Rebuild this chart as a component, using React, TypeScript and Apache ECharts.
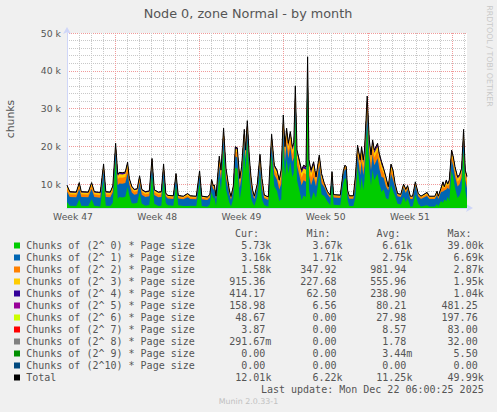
import React, { useEffect, useRef } from "react";
import * as echarts from "echarts";

const hours = [
  0, 5.6, 18.6, 24.5, 28.5, 42.5, 49.1, 54.5, 66.4, 73.0,
  77.4, 86.4, 91.4, 97.0, 101.3, 104.3, 110.3, 116.3, 120.9, 124.3,
  129.3, 134.3, 140.2, 144.8, 149.2, 156.2, 164.2, 169.6, 174.2, 182.1,
  188.1, 192.7, 197.1, 201.1, 212.1, 217.5, 222.0, 232.0, 240.6, 246.0,
  258.0, 264.5, 268.9, 279.9, 284.9, 288.5, 291.9, 293.9, 297.3, 303.8,
  307.2, 312.4, 317.2, 323.8, 327.2, 331.8, 335.8, 339.7, 344.7, 348.3,
  353.7, 356.3, 359.7, 363.7, 367.1, 370.3, 373.7, 379.6, 385.0, 389.0,
  393.6, 401.6, 408.2, 413.6, 419.0, 423.5, 427.5, 431.5, 434.9, 438.1,
  441.5, 445.5, 449.5, 452.5, 455.5, 458.9, 463.4, 468.0, 472.0, 476.8,
  480.0, 482.8, 486.8, 492.0, 496.8, 503.3, 507.9, 513.3, 519.9, 525.3,
  528.7, 531.9, 545.2, 551.2, 554.6, 557.2, 559.8, 563.2, 571.2, 575.2,
  579.7, 585.1, 587.7, 591.1, 593.5, 598.9, 603.1, 606.5, 609.7, 613.1,
  619.6, 623.0, 627.6, 631.6, 636.4, 641.0, 646.4, 650.4, 654.4, 659.5,
  665.9, 671.5, 675.9, 679.5, 684.9, 689.5, 694.9, 700.8, 706.2, 718.2,
  722.8, 733.8, 738.2, 740.7, 746.1, 750.1, 752.7, 756.7, 759.3, 762.7,
  767.3, 770.7, 774.1, 779.2, 783.2, 787.2, 791.2, 794.6, 798.0,
];

const chunks0 = [
  5.26, 4.29, 4.19, 5.96, 4.29, 4.19, 5.96, 4.29, 4.09, 10.86,
  4.29, 4.19, 5.06, 16.36, 6.06, 6.56, 6.46, 6.66, 9.26, 7.06,
  4.96, 4.89, 5.09, 7.76, 4.89, 4.29, 4.49, 12.36, 4.79, 4.19,
  4.29, 10.86, 4.98, 4.38, 4.28, 9.5, 4.38, 4.18, 4.2, 4.28,
  4.18, 10.2, 4.18, 3.98, 4.58, 7.9, 6.2, 6.5, 4.18, 11.85,
  8.15, 19.25, 8.65, 5.1, 4.08, 6.2, 14.35, 14.05, 5.95, 9.05,
  18.95, 13.45, 21.25, 11.65, 6.35, 5.1, 4.18, 6.7, 12.35, 5.95,
  4.48, 3.98, 17.65, 9.45, 8.15, 5.55, 6.01, 20.31, 11.91, 16.81,
  12.81, 15.91, 11.91, 13.01, 28.01, 11.01, 8.41, 5.71, 7.01, 6.61,
  35.71, 8.41, 5.71, 7.91, 6.35, 12.15, 7.25, 6.83, 5.3, 4.4,
  9.93, 4.5, 4.4, 10.13, 11.63, 11.23, 5.7, 4.2, 4.2, 6.35,
  14.75, 8.41, 11.91, 8.41, 11.01, 25.31, 13.71, 9.71, 13.71, 11.01,
  12.81, 10.11, 7.91, 8.65, 6.35, 5.93, 9.75, 8.15, 6.83, 4.8,
  4.6, 6.63, 5.23, 6.23, 4.1, 4.1, 7.23, 4.8, 4.1, 4.43,
  4.1, 4.1, 4.73, 4.1, 5.53, 5.05, 5.93, 5.55, 6.63, 5.55,
  13.45, 11.65, 9.05, 6.35, 6.95, 8.65, 18.95, 8.15, 5.73,
];
const chunks1 = [
  2.8, 2.3, 2.3, 2.8, 2.3, 2.3, 2.8, 2.3, 2.3, 2.8,
  2.3, 2.3, 2.8, 2.8, 3.6, 3.6, 3.6, 3.6, 3.6, 2.8,
  2.8, 2.3, 2.3, 2.8, 2.3, 2.3, 2.3, 2.8, 2.3, 2.3,
  2.3, 2.8, 1.8, 1.8, 1.8, 2.3, 1.8, 1.8, 2.3, 1.8,
  1.8, 2.3, 1.8, 1.8, 1.8, 2.3, 2.3, 2.3, 1.8, 3.0,
  3.0, 3.0, 3.0, 2.3, 1.8, 2.3, 3.0, 3.0, 3.0, 3.0,
  3.0, 3.0, 3.0, 3.0, 3.0, 2.3, 1.8, 2.3, 3.0, 3.0,
  1.8, 1.8, 3.0, 3.0, 3.0, 3.0, 4.0, 4.0, 4.0, 4.0,
  4.0, 4.0, 4.0, 4.0, 4.0, 4.0, 4.0, 4.0, 4.0, 4.0,
  4.0, 4.0, 4.0, 4.0, 3.0, 3.0, 3.0, 2.4, 1.95, 1.95,
  2.4, 1.95, 1.95, 2.4, 2.4, 2.4, 1.95, 1.95, 1.95, 3.0,
  3.0, 4.0, 4.0, 4.0, 4.0, 4.0, 4.0, 4.0, 4.0, 4.0,
  4.0, 4.0, 4.0, 3.0, 3.0, 2.4, 3.0, 3.0, 2.4, 1.95,
  1.95, 2.4, 2.4, 2.4, 1.95, 1.95, 2.4, 1.95, 1.95, 2.4,
  1.95, 1.95, 2.4, 1.95, 2.4, 3.0, 2.4, 3.0, 2.4, 3.0,
  3.0, 3.0, 3.0, 3.0, 3.0, 3.0, 3.0, 3.0, 3.16,
];
const chunks2 = [
  0.9, 0.75, 0.75, 0.9, 0.75, 0.75, 0.9, 0.75, 0.75, 0.9,
  0.75, 0.75, 0.9, 0.9, 1.6, 1.6, 1.6, 1.6, 1.6, 0.9,
  0.9, 0.75, 0.75, 0.9, 0.75, 0.75, 0.75, 0.9, 0.75, 0.75,
  0.75, 0.9, 0.4, 0.4, 0.4, 0.5, 0.4, 0.4, 0.5, 0.4,
  0.4, 0.5, 0.4, 0.4, 0.4, 0.5, 0.5, 0.5, 0.4, 1.3,
  1.3, 1.3, 1.3, 0.5, 0.4, 0.5, 1.3, 1.3, 1.3, 1.3,
  1.3, 1.3, 1.3, 1.3, 1.3, 0.5, 0.4, 0.5, 1.3, 1.3,
  0.4, 0.4, 1.3, 1.3, 1.3, 1.3, 2.0, 2.0, 2.0, 2.0,
  2.0, 2.0, 2.0, 2.0, 2.0, 2.0, 2.0, 2.0, 2.0, 2.0,
  2.0, 2.0, 2.0, 2.0, 1.3, 1.3, 1.3, 0.5, 0.38, 0.38,
  0.5, 0.38, 0.38, 0.5, 0.5, 0.5, 0.38, 0.38, 0.38, 1.3,
  1.3, 2.0, 2.0, 2.0, 2.0, 2.0, 2.0, 2.0, 2.0, 2.0,
  2.0, 2.0, 2.0, 1.3, 1.3, 0.5, 1.3, 1.3, 0.5, 0.38,
  0.38, 0.5, 0.5, 0.5, 0.38, 0.38, 0.5, 0.38, 0.38, 0.5,
  0.38, 0.38, 0.5, 0.38, 0.5, 1.3, 0.5, 1.3, 0.5, 1.3,
  1.3, 1.3, 1.3, 1.3, 1.3, 1.3, 1.3, 1.3, 1.58,
];
const chunks3 = [
  0.5, 0.45, 0.45, 0.5, 0.45, 0.45, 0.5, 0.45, 0.45, 0.5,
  0.45, 0.45, 0.5, 0.5, 0.9, 0.9, 0.9, 0.9, 0.9, 0.5,
  0.5, 0.45, 0.45, 0.5, 0.45, 0.45, 0.45, 0.5, 0.45, 0.45,
  0.45, 0.5, 0.3, 0.3, 0.3, 0.35, 0.3, 0.3, 0.35, 0.3,
  0.3, 0.35, 0.3, 0.3, 0.3, 0.35, 0.35, 0.35, 0.3, 0.8,
  0.8, 0.8, 0.8, 0.35, 0.3, 0.35, 0.8, 0.8, 0.8, 0.8,
  0.8, 0.8, 0.8, 0.8, 0.8, 0.35, 0.3, 0.35, 0.8, 0.8,
  0.3, 0.3, 0.8, 0.8, 0.8, 0.8, 1.2, 1.2, 1.2, 1.2,
  1.2, 1.2, 1.2, 1.2, 1.2, 1.2, 1.2, 1.2, 1.2, 1.2,
  1.2, 1.2, 1.2, 1.2, 0.8, 0.8, 0.8, 0.33, 0.26, 0.26,
  0.33, 0.26, 0.26, 0.33, 0.33, 0.33, 0.26, 0.26, 0.26, 0.8,
  0.8, 1.2, 1.2, 1.2, 1.2, 1.2, 1.2, 1.2, 1.2, 1.2,
  1.2, 1.2, 1.2, 0.8, 0.8, 0.33, 0.8, 0.8, 0.33, 0.26,
  0.26, 0.33, 0.33, 0.33, 0.26, 0.26, 0.33, 0.26, 0.26, 0.33,
  0.26, 0.26, 0.33, 0.26, 0.33, 0.8, 0.33, 0.8, 0.33, 0.8,
  0.8, 0.8, 0.8, 0.8, 0.8, 0.8, 0.8, 0.8, 0.915,
];
const chunks4 = [
  0.17, 0.15, 0.15, 0.17, 0.15, 0.15, 0.17, 0.15, 0.15, 0.17,
  0.15, 0.15, 0.17, 0.17, 0.3, 0.3, 0.3, 0.3, 0.3, 0.17,
  0.17, 0.15, 0.15, 0.17, 0.15, 0.15, 0.15, 0.17, 0.15, 0.15,
  0.15, 0.17, 0.09, 0.09, 0.09, 0.11, 0.09, 0.09, 0.11, 0.09,
  0.09, 0.11, 0.09, 0.09, 0.09, 0.11, 0.11, 0.11, 0.09, 0.3,
  0.3, 0.3, 0.3, 0.11, 0.09, 0.11, 0.3, 0.3, 0.3, 0.3,
  0.3, 0.3, 0.3, 0.3, 0.3, 0.11, 0.09, 0.11, 0.3, 0.3,
  0.09, 0.09, 0.3, 0.3, 0.3, 0.3, 0.5, 0.5, 0.5, 0.5,
  0.5, 0.5, 0.5, 0.5, 0.5, 0.5, 0.5, 0.5, 0.5, 0.5,
  0.5, 0.5, 0.5, 0.5, 0.3, 0.3, 0.3, 0.1, 0.08, 0.08,
  0.1, 0.08, 0.08, 0.1, 0.1, 0.1, 0.08, 0.08, 0.08, 0.3,
  0.3, 0.5, 0.5, 0.5, 0.5, 0.5, 0.5, 0.5, 0.5, 0.5,
  0.5, 0.5, 0.5, 0.3, 0.3, 0.1, 0.3, 0.3, 0.1, 0.08,
  0.08, 0.1, 0.1, 0.1, 0.08, 0.08, 0.1, 0.08, 0.08, 0.1,
  0.08, 0.08, 0.1, 0.08, 0.1, 0.3, 0.1, 0.3, 0.1, 0.3,
  0.3, 0.3, 0.3, 0.3, 0.3, 0.3, 0.3, 0.3, 0.414,
];
const chunks5 = [
  0.05, 0.04, 0.04, 0.05, 0.04, 0.04, 0.05, 0.04, 0.04, 0.05,
  0.04, 0.04, 0.05, 0.05, 0.1, 0.1, 0.1, 0.1, 0.1, 0.05,
  0.05, 0.04, 0.04, 0.05, 0.04, 0.04, 0.04, 0.05, 0.04, 0.04,
  0.04, 0.05, 0.025, 0.025, 0.025, 0.03, 0.025, 0.025, 0.03, 0.025,
  0.025, 0.03, 0.025, 0.025, 0.025, 0.03, 0.03, 0.03, 0.025, 0.1,
  0.1, 0.1, 0.1, 0.03, 0.025, 0.03, 0.1, 0.1, 0.1, 0.1,
  0.1, 0.1, 0.1, 0.1, 0.1, 0.03, 0.025, 0.03, 0.1, 0.1,
  0.025, 0.025, 0.1, 0.1, 0.1, 0.1, 0.2, 0.2, 0.2, 0.2,
  0.2, 0.2, 0.2, 0.2, 0.2, 0.2, 0.2, 0.2, 0.2, 0.2,
  0.2, 0.2, 0.2, 0.2, 0.1, 0.1, 0.1, 0.03, 0.02, 0.02,
  0.03, 0.02, 0.02, 0.03, 0.03, 0.03, 0.02, 0.02, 0.02, 0.1,
  0.1, 0.2, 0.2, 0.2, 0.2, 0.2, 0.2, 0.2, 0.2, 0.2,
  0.2, 0.2, 0.2, 0.1, 0.1, 0.03, 0.1, 0.1, 0.03, 0.02,
  0.02, 0.03, 0.03, 0.03, 0.02, 0.02, 0.03, 0.02, 0.02, 0.03,
  0.02, 0.02, 0.03, 0.02, 0.03, 0.1, 0.03, 0.1, 0.03, 0.1,
  0.1, 0.1, 0.1, 0.1, 0.1, 0.1, 0.1, 0.1, 0.159,
];
const chunks6 = [
  0.015, 0.012, 0.012, 0.015, 0.012, 0.012, 0.015, 0.012, 0.012, 0.015,
  0.012, 0.012, 0.015, 0.015, 0.03, 0.03, 0.03, 0.03, 0.03, 0.015,
  0.015, 0.012, 0.012, 0.015, 0.012, 0.012, 0.012, 0.015, 0.012, 0.012,
  0.012, 0.015, 0.008, 0.008, 0.008, 0.01, 0.008, 0.008, 0.01, 0.008,
  0.008, 0.01, 0.008, 0.008, 0.008, 0.01, 0.01, 0.01, 0.008, 0.035,
  0.035, 0.035, 0.035, 0.01, 0.008, 0.01, 0.035, 0.035, 0.035, 0.035,
  0.035, 0.035, 0.035, 0.035, 0.035, 0.01, 0.008, 0.01, 0.035, 0.035,
  0.008, 0.008, 0.035, 0.035, 0.035, 0.035, 0.07, 0.07, 0.07, 0.07,
  0.07, 0.07, 0.07, 0.07, 0.07, 0.07, 0.07, 0.07, 0.07, 0.07,
  0.07, 0.07, 0.07, 0.07, 0.035, 0.035, 0.035, 0.008, 0.006, 0.006,
  0.008, 0.006, 0.006, 0.008, 0.008, 0.008, 0.006, 0.006, 0.006, 0.035,
  0.035, 0.07, 0.07, 0.07, 0.07, 0.07, 0.07, 0.07, 0.07, 0.07,
  0.07, 0.07, 0.07, 0.035, 0.035, 0.008, 0.035, 0.035, 0.008, 0.006,
  0.006, 0.008, 0.008, 0.008, 0.006, 0.006, 0.008, 0.006, 0.006, 0.008,
  0.006, 0.006, 0.008, 0.006, 0.008, 0.035, 0.008, 0.035, 0.008, 0.035,
  0.035, 0.035, 0.035, 0.035, 0.035, 0.035, 0.035, 0.035, 0.049,
];
const chunks7 = [
  0.005, 0.004, 0.004, 0.005, 0.004, 0.004, 0.005, 0.004, 0.004, 0.005,
  0.004, 0.004, 0.005, 0.005, 0.01, 0.01, 0.01, 0.01, 0.01, 0.005,
  0.005, 0.004, 0.004, 0.005, 0.004, 0.004, 0.004, 0.005, 0.004, 0.004,
  0.004, 0.005, 0.002, 0.002, 0.002, 0.003, 0.002, 0.002, 0.003, 0.002,
  0.002, 0.003, 0.002, 0.002, 0.002, 0.003, 0.003, 0.003, 0.002, 0.01,
  0.01, 0.01, 0.01, 0.003, 0.002, 0.003, 0.01, 0.01, 0.01, 0.01,
  0.01, 0.01, 0.01, 0.01, 0.01, 0.003, 0.002, 0.003, 0.01, 0.01,
  0.002, 0.002, 0.01, 0.01, 0.01, 0.01, 0.02, 0.02, 0.02, 0.02,
  0.02, 0.02, 0.02, 0.02, 0.02, 0.02, 0.02, 0.02, 0.02, 0.02,
  0.02, 0.02, 0.02, 0.02, 0.01, 0.01, 0.01, 0.003, 0.002, 0.002,
  0.003, 0.002, 0.002, 0.003, 0.003, 0.003, 0.002, 0.002, 0.002, 0.01,
  0.01, 0.02, 0.02, 0.02, 0.02, 0.02, 0.02, 0.02, 0.02, 0.02,
  0.02, 0.02, 0.02, 0.01, 0.01, 0.003, 0.01, 0.01, 0.003, 0.002,
  0.002, 0.003, 0.003, 0.003, 0.002, 0.002, 0.003, 0.002, 0.002, 0.003,
  0.002, 0.002, 0.003, 0.002, 0.003, 0.01, 0.003, 0.01, 0.003, 0.01,
  0.01, 0.01, 0.01, 0.01, 0.01, 0.01, 0.01, 0.01, 0.004,
];
const chunks8 = [
  0.001, 0.001, 0.001, 0.001, 0.001, 0.001, 0.001, 0.001, 0.001, 0.001,
  0.001, 0.001, 0.001, 0.001, 0.002, 0.002, 0.002, 0.002, 0.002, 0.001,
  0.001, 0.001, 0.001, 0.001, 0.001, 0.001, 0.001, 0.001, 0.001, 0.001,
  0.001, 0.001, 0, 0, 0, 0, 0, 0, 0, 0,
  0, 0, 0, 0, 0, 0, 0, 0, 0, 0.002,
  0.002, 0.002, 0.002, 0, 0, 0, 0.002, 0.002, 0.002, 0.002,
  0.002, 0.002, 0.002, 0.002, 0.002, 0, 0, 0, 0.002, 0.002,
  0, 0, 0.002, 0.002, 0.002, 0.002, 0.003, 0.003, 0.003, 0.003,
  0.003, 0.003, 0.003, 0.003, 0.003, 0.003, 0.003, 0.003, 0.003, 0.003,
  0.003, 0.003, 0.003, 0.003, 0.002, 0.002, 0.002, 0, 0, 0,
  0, 0, 0, 0, 0, 0, 0, 0, 0, 0.002,
  0.002, 0.003, 0.003, 0.003, 0.003, 0.003, 0.003, 0.003, 0.003, 0.003,
  0.003, 0.003, 0.003, 0.002, 0.002, 0, 0.002, 0.002, 0, 0,
  0, 0, 0, 0, 0, 0, 0, 0, 0, 0,
  0, 0, 0, 0, 0, 0.002, 0, 0.002, 0, 0.002,
  0.002, 0.002, 0.002, 0.002, 0.002, 0.002, 0.002, 0.002, 0.0003,
];
const chunks9 = [
  0, 0, 0, 0, 0, 0, 0, 0, 0, 0,
  0, 0, 0, 0, 0, 0, 0, 0, 0, 0,
  0, 0, 0, 0, 0, 0, 0, 0, 0, 0,
  0, 0, 0, 0, 0, 0, 0, 0, 0, 0,
  0, 0, 0, 0, 0, 0, 0, 0, 0, 0,
  0, 0, 0, 0, 0, 0, 0, 0, 0, 0,
  0, 0, 0, 0, 0, 0, 0, 0, 0, 0,
  0, 0, 0, 0, 0, 0, 0, 0, 0, 0,
  0, 0, 0, 0, 0, 0, 0, 0, 0, 0,
  0.0055, 0, 0, 0, 0, 0, 0, 0, 0, 0,
  0, 0, 0, 0, 0, 0, 0, 0, 0, 0,
  0, 0, 0, 0, 0, 0, 0, 0, 0, 0,
  0, 0, 0, 0, 0, 0, 0, 0, 0, 0,
  0, 0, 0, 0, 0, 0, 0, 0, 0, 0,
  0, 0, 0, 0, 0, 0, 0, 0, 0, 0,
  0, 0, 0, 0, 0, 0, 0, 0, 0,
];
const chunks10 = [
  0, 0, 0, 0, 0, 0, 0, 0, 0, 0,
  0, 0, 0, 0, 0, 0, 0, 0, 0, 0,
  0, 0, 0, 0, 0, 0, 0, 0, 0, 0,
  0, 0, 0, 0, 0, 0, 0, 0, 0, 0,
  0, 0, 0, 0, 0, 0, 0, 0, 0, 0,
  0, 0, 0, 0, 0, 0, 0, 0, 0, 0,
  0, 0, 0, 0, 0, 0, 0, 0, 0, 0,
  0, 0, 0, 0, 0, 0, 0, 0, 0, 0,
  0, 0, 0, 0, 0, 0, 0, 0, 0, 0,
  0, 0, 0, 0, 0, 0, 0, 0, 0, 0,
  0, 0, 0, 0, 0, 0, 0, 0, 0, 0,
  0, 0, 0, 0, 0, 0, 0, 0, 0, 0,
  0, 0, 0, 0, 0, 0, 0, 0, 0, 0,
  0, 0, 0, 0, 0, 0, 0, 0, 0, 0,
  0, 0, 0, 0, 0, 0, 0, 0, 0, 0,
  0, 0, 0, 0, 0, 0, 0, 0, 0,
];

const seriesNames = [
  "Chunks of (2^ 0) * Page size",
  "Chunks of (2^ 1) * Page size",
  "Chunks of (2^ 2) * Page size",
  "Chunks of (2^ 3) * Page size",
  "Chunks of (2^ 4) * Page size",
  "Chunks of (2^ 5) * Page size",
  "Chunks of (2^ 6) * Page size",
  "Chunks of (2^ 7) * Page size",
  "Chunks of (2^ 8) * Page size",
  "Chunks of (2^ 9) * Page size",
  "Chunks of (2^10) * Page size",
  "Total",
];
const seriesColors = [
  "#00CC00", "#0066B3", "#FF8000", "#FFCC00", "#330099", "#990099",
  "#CCFF00", "#FF0000", "#808080", "#008F00", "#00487D", "#000000",
];
const curVals = ["5.73k", "3.16k", "1.58k", "915.36", "414.17", "158.98", "48.67", "3.87", "291.67m", "0.00", "0.00", "12.01k"];
const minVals = ["3.67k", "1.71k", "347.92", "227.68", "62.50", "6.56", "0.00", "0.00", "0.00", "0.00", "0.00", "6.22k"];
const avgVals = ["6.61k", "2.75k", "981.94", "555.96", "238.90", "80.21", "27.98", "8.57", "1.78", "3.44m", "0.00", "11.25k"];
const maxVals = ["39.00k", "6.69k", "2.87k", "1.95k", "1.04k", "481.25", "197.76", "83.00", "32.00", "5.50", "0.00", "49.99k"];
const colHeaders = ["Cur:", "Min:", "Avg:", "Max:"];

const weekLabels = ["Week 47", "Week 48", "Week 49", "Week 50", "Week 51"];
const weekLabelHours = [12, 180, 348, 516, 684];
const weekStartHours = [96, 264, 432, 600, 768];
const yLabelValues = [10, 20, 30, 40, 50];

const titleText = "Node 0, zone Normal - by month";
const yName = "chunks";
const lastUpdate = "Last update: Mon Dec 22 06:00:25 2025";
const muninVersion = "Munin 2.0.33-1";
const watermark = "RRDTOOL / TOBI OETIKER";

export default function App() {
  const ref = useRef<HTMLDivElement>(null);
  useEffect(() => {
    if (!ref.current) return;
    const chart = echarts.init(ref.current, null, { renderer: "svg" });
    const layers = [chunks0, chunks1, chunks2, chunks3, chunks4, chunks5, chunks6, chunks7, chunks8, chunks9, chunks10];
    // running sums: the top edge of each stacked band (rrdtool STACK)
    const tops: number[][] = [];
    layers.forEach((arr, k) => {
      tops.push(arr.map((v, i) => v + (k > 0 ? tops[k - 1][i] : 0)));
    });
    const total = tops[tops.length - 1];

    const dayTicks: number[] = [];
    for (let h = 24; h < 798; h += 24) if (weekStartHours.indexOf(h) < 0) dayTicks.push(h);
    const minorY: number[] = [];
    for (let v = 4; v < 50; v += 2) if (v % 10 !== 0) minorY.push(v);

    const axisColor = "#cfd6f8";
    const txt = "#555555";
    const mono = "DejaVu Sans Mono";
    const sans = "DejaVu Sans";

    const series: any[] = [];
    // draw from the highest band down, so each lower band paints over the one above
    for (let k = layers.length - 1; k >= 0; k--) {
      series.push({
        name: seriesNames[k],
        type: "line",
        symbol: "none",
        showSymbol: false,
        silent: true,
        xAxisIndex: 0,
        yAxisIndex: 0,
        color: seriesColors[k],
        lineStyle: { width: 0, opacity: 0 },
        areaStyle: { color: seriesColors[k], opacity: 1, origin: "start" },
        data: hours.map((h, i) => [h, tops[k][i]]),
        z: 2,
        zlevel: 0,
      });
    }
    series.push({
      name: "Total",
      type: "line",
      symbol: "none",
      showSymbol: false,
      silent: true,
      xAxisIndex: 0,
      yAxisIndex: 0,
      lineStyle: { color: "#000000", width: 1 },
      data: hours.map((h, i) => [h, total[i]]),
      z: 3,
    });

    const graphic: any[] = [];
    graphic.push({
      type: "text", x: 248, y: 13.5,
      style: { text: titleText, fill: txt, fontFamily: sans, fontSize: 12.8, textAlign: "center", textVerticalAlign: "middle" },
    });
    graphic.push({
      type: "text", x: 10.5, y: 119, rotation: Math.PI / 2,
      style: { text: yName, fill: txt, fontFamily: sans, fontSize: 10.8, textAlign: "center", textVerticalAlign: "middle" },
    });
    graphic.push({
      type: "text", x: 489.5, y: 56, rotation: -Math.PI / 2,
      style: { text: watermark, fill: "#c8c8c8", fontFamily: sans, fontSize: 7.9, textAlign: "center", textVerticalAlign: "middle" },
    });
    const headerX = [235, 306.4, 376.4, 447.4];
    colHeaders.forEach((h, k) => {
      graphic.push({
        type: "text", x: headerX[k], y: 233.5,
        style: { text: h, fill: txt, fontFamily: mono, fontSize: 10, textAlign: "left", textVerticalAlign: "middle" },
      });
    });
    const colRight = [271.4, 342.5, 412.4, 483.7];
    const pad = (s: string) => (/[km]$/.test(s) ? s : s + "\u00a0");
    seriesNames.forEach((name, i) => {
      const cy = 245.7 + 12 * i;
      graphic.push({ type: "rect", shape: { x: 14, y: cy - 3.2, width: 6, height: 6 }, style: { fill: seriesColors[i] } });
      graphic.push({
        type: "text", x: 26.2, y: cy,
        style: { text: name, fill: txt, fontFamily: mono, fontSize: 10, textAlign: "left", textVerticalAlign: "middle" },
      });
      [curVals, minVals, avgVals, maxVals].forEach((col, k) => {
        graphic.push({
          type: "text", x: colRight[k], y: cy,
          style: { text: pad(col[i]), fill: txt, fontFamily: mono, fontSize: 10, textAlign: "right", textVerticalAlign: "middle" },
        });
      });
    });
    graphic.push({
      type: "text", x: 483.7, y: 389.5,
      style: { text: lastUpdate, fill: txt, fontFamily: mono, fontSize: 10, textAlign: "right", textVerticalAlign: "middle" },
    });
    graphic.push({
      type: "text", x: 248.5, y: 401.5,
      style: { text: muninVersion, fill: "#c0c0c0", fontFamily: sans, fontSize: 7.9, textAlign: "center", textVerticalAlign: "middle" },
    });

    const option: any = {
      animation: false,
      backgroundColor: "#f0f0f0",
      grid: {
        left: 67, right: 30, top: 33, bottom: 204,
        show: true, backgroundColor: "#ffffff", borderWidth: 0,
        containLabel: false, outerBoundsMode: "none",
      },
      xAxis: [
        {
          type: "value", min: 0, max: 798, position: "bottom",
          axisLine: { show: true, onZero: false, lineStyle: { color: axisColor, width: 1 }, symbol: ["none", "arrow"], symbolSize: [6, 7], symbolOffset: [0, 6] },
          axisTick: { show: false, customValues: weekStartHours },
          axisLabel: {
            show: true, customValues: weekLabelHours, margin: 4,
            color: txt, fontFamily: sans, fontSize: 9.2,
            formatter: (v: number) => {
              const idx = weekLabelHours.indexOf(v);
              return idx >= 0 ? weekLabels[idx] : "";
            },
          },
          splitLine: { show: true, lineStyle: { color: "#f09a9a", width: 1, type: [1, 1] } },
        },
        {
          type: "value", min: 0, max: 798, position: "top",
          axisLine: { show: false },
          axisTick: { show: false, customValues: dayTicks },
          axisLabel: { show: false },
          splitLine: { show: true, lineStyle: { color: "#c8c8c8", width: 1, type: [1, 1] } },
        },
      ],
      yAxis: [
        {
          type: "value", min: 3.67, max: 50, position: "left",
          axisLine: { show: true, onZero: false, lineStyle: { color: axisColor, width: 1 }, symbol: ["none", "arrow"], symbolSize: [6, 7], symbolOffset: [0, 6] },
          axisTick: { show: false, customValues: yLabelValues },
          axisLabel: {
            show: true, customValues: yLabelValues, margin: 6,
            color: txt, fontFamily: sans, fontSize: 9.3,
            formatter: (v: number) => `${v} k`,
          },
          splitLine: { show: true, lineStyle: { color: "#f09a9a", width: 1, type: [1, 1] } },
        },
        {
          type: "value", min: 3.67, max: 50, position: "right",
          axisLine: { show: false },
          axisTick: { show: false, customValues: minorY },
          axisLabel: { show: false },
          splitLine: { show: true, lineStyle: { color: "#c8c8c8", width: 1, type: [1, 1] } },
        },
      ],
      series,
      graphic,
    };
    chart.setOption(option);
    return () => chart.dispose();
  }, []);
  return <div ref={ref} style={{ position: "fixed", left: 0, top: 0, width: 497, height: 412 }} />;
}
